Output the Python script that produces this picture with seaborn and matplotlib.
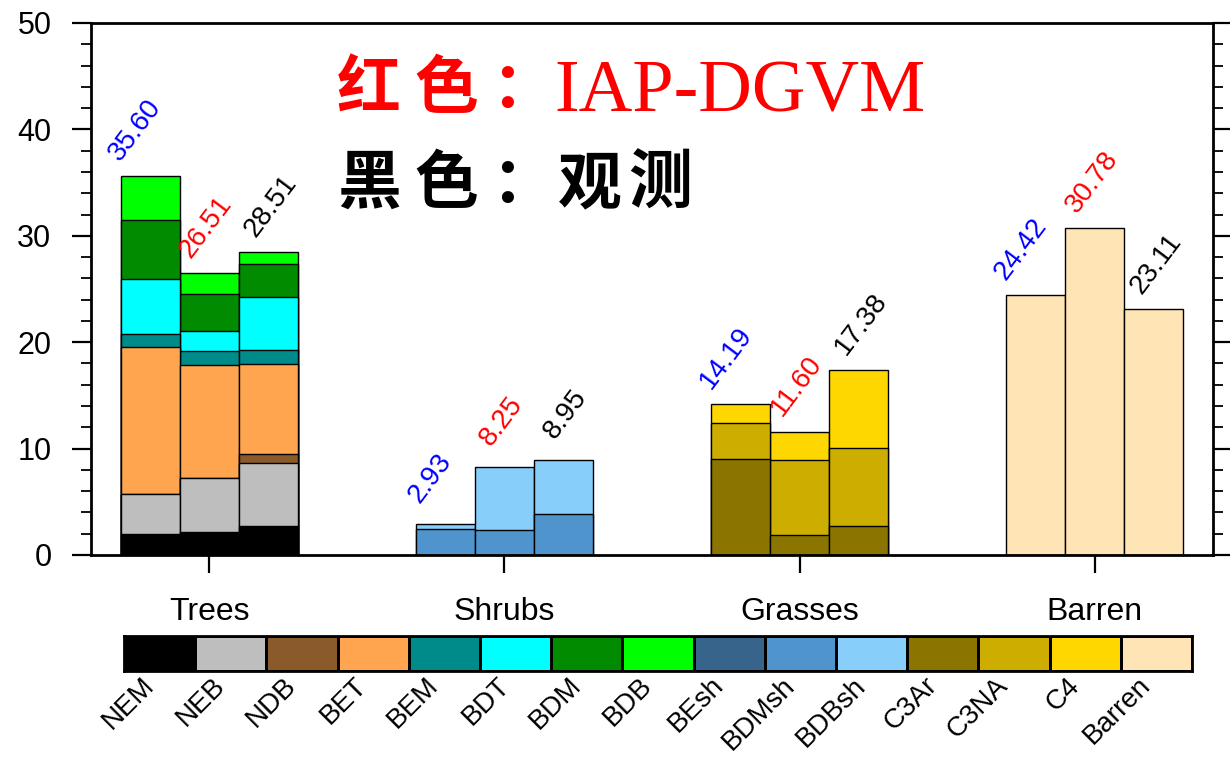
import numpy as np
import pandas as pd
import matplotlib
matplotlib.use("Agg")
import matplotlib.pyplot as plt
import matplotlib.transforms as mtransforms
from matplotlib.colors import ListedColormap
import seaborn as sns

# Land-cover fractions (%) by plant functional type
groups = ["Trees", "Shrubs", "Grasses", "Barren"]
pfts = ["NEM", "NEB", "NDB", "BET", "BEM", "BDT", "BDM", "BDB",
        "BEsh", "BDMsh", "BDBsh", "C3Ar", "C3NA", "C4", "Barren"]
pft_group = ["Trees"] * 8 + ["Shrubs"] * 3 + ["Grasses"] * 3 + ["Barren"]

blue_vals = [1.94, 3.76, 0.00, 13.82, 1.28, 5.11, 5.55, 4.14,
             0.00, 2.44, 0.49, 9.05, 3.36, 1.78, 24.42]
iap_vals = [2.13, 5.14, 0.00, 10.62, 1.28, 1.85, 3.48, 2.01,
            0.00, 2.35, 5.90, 1.85, 7.05, 2.70, 30.78]
obs_vals = [2.70, 5.95, 0.87, 8.46, 1.32, 4.98, 3.07, 1.16,
            0.00, 3.88, 5.07, 2.73, 7.30, 7.35, 23.11]

sources = ["blue", "IAP-DGVM", "obs"]
source_vals = [blue_vals, iap_vals, obs_vals]
label_colors = ["#0000ff", "#ff0000", "#000000"]

pft_colors = ["#000000", "#bebebe", "#8b5a2b", "#ffa54f", "#008b8b",
              "#00ffff", "#008b00", "#00ff00", "#36648b", "#4f94cd",
              "#87cefa", "#8b7500", "#cdad00", "#ffd700", "#ffe4b5"]

# long table with cumulative heights inside each (group, source) stack
rows = []
for src, vals in zip(sources, source_vals):
    running = {g: 0.0 for g in groups}
    for pft, grp, v in zip(pfts, pft_group, vals):
        running[grp] += v
        rows.append(dict(source=src, pft=pft, group=grp, value=v, cum=running[grp]))
df = pd.DataFrame(rows)

sns.set_theme(style="ticks")
plt.rcParams["font.family"] = ["Liberation Sans", "DejaVu Sans"]
plt.rcParams["text.color"] = "black"
plt.rcParams["xtick.color"] = "black"
plt.rcParams["ytick.color"] = "black"
plt.rcParams["xtick.labelcolor"] = "black"
plt.rcParams["ytick.labelcolor"] = "black"

W, H = 1230, 757
fig = plt.figure(figsize=(W / 100, H / 100), dpi=100)
ax = fig.add_axes([91 / W, 1 - 555 / H, (1213 - 91) / W, (555 - 23) / H])

# stacked bars: draw from the top segment down so lower segments overlay
for k in reversed(range(len(pfts))):
    sub = df[df["pft"] == pfts[k]]
    sns.barplot(data=sub, x="group", y="cum", hue="source",
                order=groups, hue_order=sources,
                palette=[pft_colors[k]] * 3, saturation=1,
                width=0.6, gap=0, edgecolor="black", linewidth=1.0,
                errorbar=None, legend=False, ax=ax)

# totals above each bar
totals = df.groupby(["group", "source"])["value"].sum()
offsets = [-0.05, -0.01, 0.008]
for gi, g in enumerate(groups):
    for si, s in enumerate(sources):
        tot = round(totals[(g, s)], 2)
        x = gi + (si - 1) * 0.2 + offsets[si]
        ax.text(x, tot + 4.3, f"{tot:.2f}", rotation=53,
                ha="center", va="center", color=label_colors[si], fontsize=20)

ax.set_xlim(-0.4, 3.4)
ax.set_ylim(0, 50)
ax.set_xlabel("")
ax.set_ylabel("")
ax.set_xticks(range(len(groups)))
ax.set_xticklabels(groups, fontsize=23)
ax.set_yticks(np.arange(0, 51, 10))
ax.set_yticks(np.arange(0, 51, 2), minor=True)
ax.tick_params(axis="y", which="major", length=13.5, width=1.6, labelsize=22,
               pad=15, direction="out", left=True, right=True)
ax.tick_params(axis="y", which="minor", length=7, width=1.3,
               direction="out", left=True, right=True)
ax.tick_params(axis="x", which="major", length=13, width=1.6, pad=17,
               direction="out", top=False)
for sp in ax.spines.values():
    sp.set_visible(True)
    sp.set_linewidth(2.0)
    sp.set_color("black")

# model / observation key, one glyph per cell
cjk = ["Noto Sans CJK SC"]
for ch, x in zip("红色：", [337, 414, 491]):
    fig.text(x / W, 1 - 108 / H, ch, color="#ff0000", family=cjk,
             fontweight="bold", fontsize=46, va="baseline")
fig.text(554 / W, 1 - 112 / H, "IAP-DGVM", color="#ff0000",
         family=["Liberation Serif"], fontsize=53.5, va="baseline")
for ch, x in zip("黑色：观测", [337, 414, 491, 558, 628]):
    fig.text(x / W, 1 - 203 / H, ch, color="black", family=cjk,
             fontweight="bold", fontsize=46, va="baseline")

# PFT colour key
cax = fig.add_axes([124 / W, 1 - 671 / H, (1192 - 124) / W, 35 / H])
sns.heatmap(np.arange(len(pfts))[None, :], cmap=ListedColormap(pft_colors),
            cbar=False, linewidths=1.0, linecolor="black",
            xticklabels=pfts, yticklabels=False, ax=cax)
for sp in cax.spines.values():
    sp.set_visible(True)
    sp.set_linewidth(2.0)
    sp.set_color("black")
cax.tick_params(axis="x", length=0, pad=1)
shift = mtransforms.ScaledTranslation(-19 / 100, 0, fig.dpi_scale_trans)
for lab in cax.get_xticklabels():
    lab.set_rotation(45)
    lab.set_ha("right")
    lab.set_va("top")
    lab.set_rotation_mode("anchor")
    lab.set_fontsize(20)
    lab.set_transform(lab.get_transform() + shift)

fig.savefig("out.png", dpi=100)
